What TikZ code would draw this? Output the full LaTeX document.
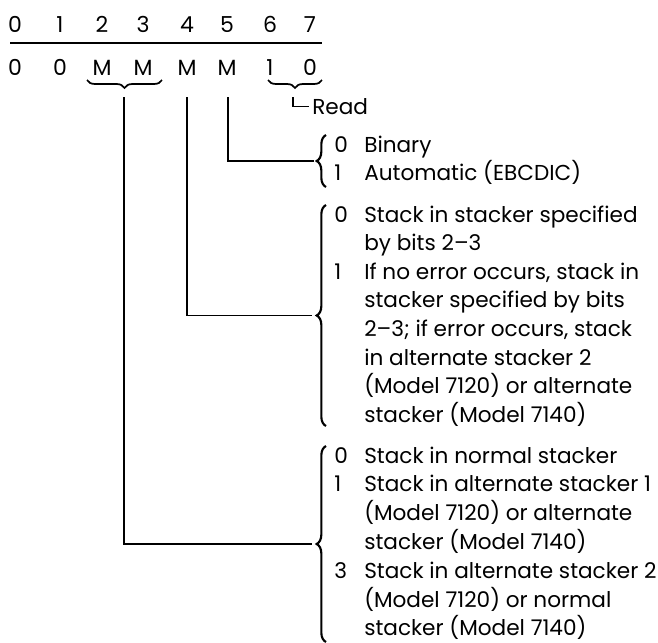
\documentclass[tikz,border=0pt]{standalone}
\usepackage{fontspec}
\setmainfont{Poppins}
\usetikzlibrary{decorations.pathreplacing}
\begin{document}
\begin{tikzpicture}[x=0.75pt,y=-0.75pt,
  txt/.style={anchor=base west,inner sep=0pt,font=\fontsize{16.2}{19}\selectfont},
  dig/.style={anchor=base,inner sep=0pt,font=\fontsize{16.5}{19}\selectfont},
  conn/.style={line width=0.8pt},
  bigbrace/.style={decorate,decoration={brace,amplitude=7pt},line width=1.6pt},
  smallbrace/.style={decorate,decoration={brace,amplitude=6pt},line width=1.3pt},
]
\useasboundingbox (0,0) rectangle (658,643);
% header
\foreach \x/\t [count=\i] in {15/0,60/1,102/2,143/3,187/4,227/5,270/6,310/7}
  \node[dig] (h\i) at (\x,32) {\t};
\foreach \x/\t [count=\i] in {15/0,60/0,102/M,143/M,187/M,227/M,270/1,310/0}
  \node[dig] (v\i) at (\x,75) {\t};
\draw[line width=1.1pt] (10,43) -- (322,43);
% underbraces
\draw[smallbrace] (162,80) -- (87,80);
\draw[smallbrace] (322,80) -- (268,80);
\coordinate (s23) at (124,97);
\coordinate (s4) at (187,97);
\coordinate (s5) at (228,97);
\coordinate (s67) at (293,97);
% description texts
\node[txt] (read) at (312,114) {Read};
\node[txt] (bn0) at (334,152) {0};
\node[txt] (bt0) at (364,152) {Binary};
\node[txt] (bn1) at (334,180) {1};
\node[txt] (bt1) at (364,180) {Automatic (EBCDIC)};
\node[txt] (cd0) at (334,222) {0};
\node[txt] (cd1) at (334,{222+2*28.6}) {1};
\foreach \t [count=\i from 0] in {{Stack in stacker specified},{by bits 2--3},{If no error occurs, stack in},{stacker specified by bits},{2--3; if error occurs, stack},{in alternate stacker 2},{(Model 7120) or alternate},{stacker (Model 7140)}}
  \node[txt] (c\i) at (364,{222+28.6*\i}) {\t};
\node[txt] (dd0) at (334,463) {0};
\node[txt] (dd1) at (334,{463+28.8}) {1};
\node[txt] (dd3) at (334,{463+4*28.8}) {3};
\foreach \t [count=\i from 0] in {{Stack in normal stacker},{Stack in alternate stacker 1},{(Model 7120) or alternate},{stacker (Model 7140)},{Stack in alternate stacker 2},{(Model 7120) or normal},{stacker (Model 7140)}}
  \node[txt] (d\i) at (364,{463+28.8*\i}) {\t};
% description braces
\draw[bigbrace] (326,187) -- (326,135);
\draw[bigbrace] (326,426) -- (326,205);
\draw[bigbrace] (326,642) -- (326,446);
\coordinate (tb) at (314,161);
\coordinate (tc) at (312,315.5);
\coordinate (td) at (312,544);
% connectors
\draw[conn] (s67) |- ([xshift=-2pt]read.west);
\draw[conn] (s5) |- (tb);
\draw[conn] (s4) |- (tc);
\draw[conn] (s23) |- (td);
\end{tikzpicture}
\end{document}
